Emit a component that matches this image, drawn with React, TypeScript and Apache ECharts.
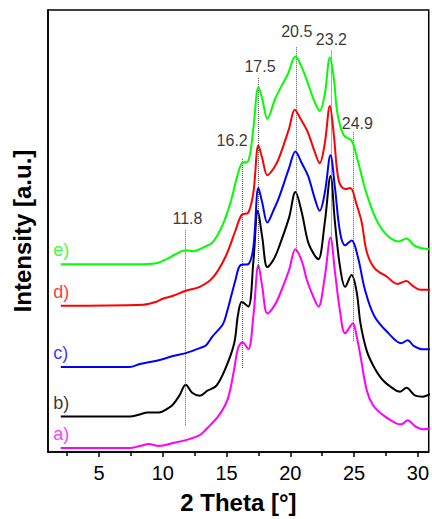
import React, { useEffect, useRef } from "react";
import * as echarts from "echarts";

// 2θ (deg) vs intensity (a.u., with vertical offsets as plotted)
const curveA: [number, number][] = [
  [2, 4], [7.4, 4], [8.2, 6], [8.9, 8], [9.7, 6], [10.8, 9], [11.8, 12], [12.9, 17], [13.4, 23],
  [14.4, 37], [15.1, 54], [15.6, 84], [15.9, 105], [16.25, 111], [16.7, 104], [17.1, 137], [17.5, 189],
  [17.8, 167], [18.2, 140], [18.7, 147], [19.1, 157], [19.9, 184], [20.4, 205], [20.9, 193], [21.3, 174],
  [21.8, 157], [22.2, 147], [22.7, 177], [23.15, 217], [23.5, 182], [23.9, 142], [24.3, 120], [24.9, 130],
  [25.2, 117], [25.5, 97], [26.0, 62], [26.5, 47], [27.3, 37], [28.3, 29], [28.7, 28], [29.2, 32],
  [29.8, 26], [30.4, 23], [31, 24],
];
const curveB: [number, number][] = [
  [2, 36], [7.4, 36], [8.2, 38], [8.8, 40], [9.7, 40], [10.4, 44], [10.8, 48], [11.3, 57], [11.8, 68],
  [12.3, 60], [12.9, 57], [13.5, 62], [14.2, 67], [14.9, 84], [15.6, 110], [15.9, 139], [16.2, 152],
  [16.7, 147], [17.1, 192], [17.45, 244], [17.8, 217], [18.2, 187], [18.7, 195], [19.1, 207], [19.9, 237],
  [20.4, 263], [20.9, 242], [21.4, 212], [21.9, 199], [22.2, 195], [22.7, 232], [23.15, 279], [23.5, 232],
  [23.9, 187], [24.3, 167], [24.8, 179], [25.2, 162], [25.5, 130], [26.0, 102], [26.6, 85], [27.3, 72],
  [28.3, 62], [28.6, 61], [29.1, 65], [29.8, 57], [30.4, 56], [31, 59],
];
const curveC: [number, number][] = [
  [2, 86], [7.4, 86], [8.2, 89], [9.0, 91], [9.75, 93], [10.8, 97], [11.8, 100], [12.9, 105], [13.4, 108],
  [13.9, 117], [14.7, 129], [15.0, 140], [15.7, 174], [16.1, 189], [16.7, 190], [17.1, 207], [17.5, 267],
  [17.8, 252], [18.2, 232], [18.7, 245], [19.1, 257], [19.9, 287], [20.4, 304], [20.9, 292], [21.4, 279],
  [21.9, 257], [22.3, 244], [22.7, 262], [23.15, 300], [23.5, 267], [23.9, 222], [24.3, 209], [24.8, 214],
  [25.3, 197], [25.85, 164], [26.6, 137], [27.7, 120], [28.7, 110], [29.2, 113], [29.7, 107], [30.3, 104],
  [31, 104],
];
const curveD: [number, number][] = [
  [2, 148], [8.5, 149], [9.5, 152], [10.0, 155], [10.8, 158], [11.8, 163], [12.9, 167], [13.9, 176],
  [14.9, 197], [15.7, 224], [16.2, 240], [16.7, 242], [17.1, 262], [17.5, 310], [17.8, 297], [18.2, 280],
  [18.7, 287], [19.1, 297], [19.9, 327], [20.35, 346], [20.8, 337], [21.35, 324], [21.9, 304], [22.3, 292],
  [22.7, 312], [23.1, 350], [23.4, 322], [23.8, 274], [24.3, 266], [24.7, 267], [25.2, 250], [25.6, 232],
  [26.0, 202], [26.6, 186], [27.6, 177], [28.4, 170], [29.1, 173], [29.6, 168], [30.2, 164], [31, 164],
];
const curveE: [number, number][] = [
  [2, 190], [8, 190], [9.5, 191], [10.3, 195], [11.0, 200], [11.8, 204], [12.4, 203], [13.2, 207],
  [13.9, 212], [14.7, 230], [15.3, 252], [15.8, 277], [16.2, 292], [16.7, 294], [17.1, 327], [17.5, 369],
  [17.8, 357], [18.2, 337], [18.8, 357], [19.3, 370], [19.8, 382], [20.4, 400], [20.9, 389], [21.4, 372],
  [21.9, 354], [22.3, 345], [22.7, 362], [23.1, 399], [23.4, 379], [23.7, 342], [24.2, 320], [24.8, 315],
  [25.3, 294], [25.8, 269], [26.3, 249], [26.9, 231], [27.6, 219], [28.5, 213], [29.1, 216], [29.7, 209],
  [30.3, 206], [31, 205],
];

const seriesNames = ["a)", "b)", "c)", "d)", "e)"];
const seriesColors = ["#ff00ff", "#000000", "#0000ff", "#ff0000", "#00ff00"];
const curves = [curveA, curveB, curveC, curveD, curveE];

const peakPositions = [11.8, 16.2, 17.5, 20.5, 23.2, 24.9];
const peakLabels = ["11.8", "16.2", "17.5", "20.5", "23.2", "24.9"];

const xMajorTicks = [5, 10, 15, 20, 25, 30];
const xMinorTicks = [2.5, 7.5, 12.5, 17.5, 22.5, 27.5];

const FONT = "'Liberation Sans', Arial, Helvetica, sans-serif";

// layout of the dotted reference lines and their labels (axis units)
const peakLayout = [
  { bottom: 27, top: 225, dx: 0.13, ly: 236 },
  { bottom: 85, top: 297, dx: -0.76, ly: 315 },
  { bottom: 185, top: 379, dx: 0.12, ly: 390 },
  { bottom: 202, top: 410, dx: 0, ly: 425 },
  { bottom: 217, top: 407, dx: 0.02, ly: 417 },
  { bottom: 112, top: 324, dx: 0.35, ly: 332 },
];

function buildOption(): echarts.EChartsOption {
  const lineSeries = curves.map((c, i) => ({
    type: "line" as const,
    name: seriesNames[i],
    data: c,
    showSymbol: false,
    smooth: 0.35,
    lineStyle: { color: seriesColors[i], width: 2 },
    z: 3 + i,
    silent: true,
  }));

  return {
    animation: false,
    grid: {
      left: 48,
      top: 10,
      right: 1,
      bottom: 62,
      show: true,
      borderColor: "#000",
      borderWidth: 1.5,
      backgroundColor: "transparent",
    },
    xAxis: [
      {
        type: "value",
        min: 1,
        max: 30.85,
        position: "bottom",
        axisLine: { show: true, onZero: false, lineStyle: { color: "#000", width: 1.5 } },
        axisTick: {
          show: true,
          customValues: xMajorTicks,
          length: 5,
          lineStyle: { color: "#000", width: 1.5 },
        },
        axisLabel: {
          customValues: xMajorTicks,
          fontSize: 20,
          color: "#000",
          margin: 11,
          fontFamily: FONT,
        },
        splitLine: { show: false },
        name: "2 Theta [°]",
        nameLocation: "middle",
        nameGap: 38,
        nameTextStyle: { fontSize: 24, fontWeight: "bold", color: "#000", fontFamily: FONT },
      },
      {
        type: "value",
        min: 1,
        max: 30.85,
        position: "bottom",
        axisLine: { show: false },
        axisTick: {
          show: true,
          customValues: xMinorTicks,
          length: 4,
          lineStyle: { color: "#000", width: 1.5 },
        },
        axisLabel: { show: false },
        splitLine: { show: false },
      },
    ],
    yAxis: {
      type: "value",
      min: 0,
      max: 447,
      axisLine: { show: true, lineStyle: { color: "#000", width: 1.5 } },
      axisTick: { show: false },
      axisLabel: { show: false },
      splitLine: { show: false },
      name: "Intensity [a.u.]",
      nameLocation: "middle",
      nameGap: 14,
      nameTextStyle: { fontSize: 24, fontWeight: "bold", color: "#000", fontFamily: FONT },
    },
    series: [
      {
        type: "line",
        data: [],
        silent: true,
        z: 1,
        markLine: {
          silent: true,
          symbol: ["none", "none"],
          animation: false,
          label: { show: false },
          lineStyle: { type: "dotted", color: "#555", width: 1 },
          data: peakPositions.map((p, i) => [
            { coord: [p, peakLayout[i].bottom] },
            { coord: [p, peakLayout[i].top] },
          ]) as any,
        },
      },
      ...lineSeries,
      {
        type: "scatter",
        silent: true,
        symbolSize: 0,
        z: 10,
        data: peakPositions.map((p, i) => ({
          value: [p + peakLayout[i].dx, peakLayout[i].ly],
          name: peakLabels[i],
        })),
        label: {
          show: true,
          position: "inside",
          formatter: "{b}",
          fontSize: 16,
          color: "#000",
          fontFamily: FONT,
        },
      },
      {
        type: "scatter",
        silent: true,
        symbolSize: 0,
        z: 10,
        data: seriesNames.map((n, i) => ({
          value: [1.42, curves[i][0][1] + 14],
          name: n,
          label: { color: seriesColors[i] },
        })),
        label: {
          show: true,
          position: "inside",
          align: "left",
          formatter: "{b}",
          fontSize: 18,
          fontFamily: FONT,
        },
      },
    ],
  } as echarts.EChartsOption;
}

export default function App() {
  const ref = useRef<HTMLDivElement>(null);
  useEffect(() => {
    if (!ref.current) return;
    const chart = echarts.init(ref.current, null, { renderer: "svg" });
    chart.setOption(buildOption());
    return () => chart.dispose();
  }, []);
  return (
    <div
      ref={ref}
      style={{ position: "fixed", left: 0, top: 0, width: 432, height: 519, background: "#fff" }}
    />
  );
}
